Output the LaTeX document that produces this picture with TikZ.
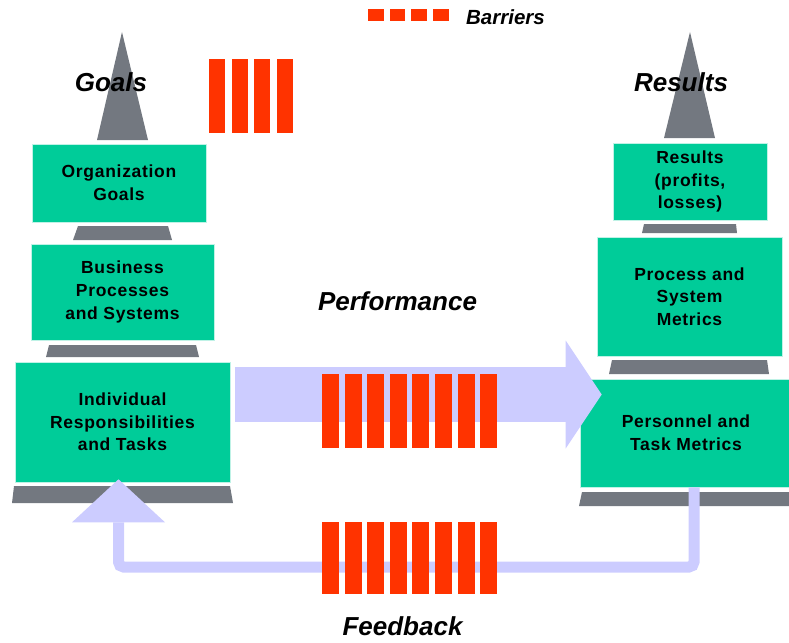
\documentclass[tikz,border=0pt]{standalone}
\usepackage{fontspec}
\setmainfont{Liberation Sans}
\newfontfamily\tierfont[LetterSpace=4]{Liberation Sans}
\usetikzlibrary{arrows.meta,calc}
\definecolor{tier}{HTML}{00CC99}
\definecolor{plinth}{RGB}{115,120,128}
\definecolor{barrier}{HTML}{FF3300}
\definecolor{flow}{HTML}{CCCCFF}

\begin{document}
\begin{tikzpicture}[x=1pt,y=-1pt,
  tierbox/.style={fill=tier, draw=white!75!tier, line width=0.6pt, align=center,
    inner sep=0pt, font=\tierfont\bfseries\fontsize{17.5}{22.7}\selectfont},
  plinthshape/.style={fill=plinth},
  bar/.style={fill=barrier},
  title/.style={font=\bfseries\itshape\fontsize{26}{30}\selectfont, inner sep=0pt, anchor=base},
  flow/.style={draw=flow}]
\useasboundingbox (0,0) rectangle (789,642);

% spires
\fill[plinthshape] (122,32) -- (148,140) -- (97,140) -- cycle;
\fill[plinthshape] (690,32) -- (715,138) -- (664,138) -- cycle;

% left stack: goals side
\node[tierbox, minimum width=174pt, minimum height=78pt] (og) at (119,183) {Organization\\Goals};
\node[tierbox, minimum width=183pt, minimum height=96pt] (bp) at (122.5,292) {Business\\Processes\\and Systems};
\node[tierbox, minimum width=215pt, minimum height=120pt] (ir) at (122.5,422) {Individual\\Responsibilities\\and Tasks};

% right stack: results side
\node[tierbox, minimum width=154pt, minimum height=77pt] (rp) at (690,181.5) {Results\\(profits,\\losses)};
\node[tierbox, minimum width=185pt, minimum height=119pt] (ps) at (689.5,296.5) {Process and\\System\\Metrics};
\node[tierbox, minimum width=212pt, minimum height=108pt] (pt) at (686,433) {Personnel and\\Task Metrics};

% plinths under the tiers
\fill[plinthshape] (78,226) -- (168,226) -- (172,240) -- (73,240) -- cycle;
\fill[plinthshape] (49,345) -- (196,345) -- (199,357) -- (46,357) -- cycle;
\fill[plinthshape] (14,486) -- (230,486) -- (233,503) -- (12,503) -- cycle;
\fill[plinthshape] (644,224) -- (736,224) -- (737,233) -- (642,233) -- cycle;
\fill[plinthshape] (612,360) -- (767,360) -- (769,374) -- (609,374) -- cycle;
\fill[plinthshape] (582,492) -- (792,492) -- (792,506) -- (579,506) -- cycle;

% titles
\node[title] (goals) at (111,92) {Goals};
\node[title] (results) at (681,92) {Results};
\node[title] (perf) at (397.5,310) {Performance};
\node[title] (fb) at (402.5,635) {Feedback};

% performance flow
\draw[flow, line width=55pt, -{Triangle[length=36pt,width=108pt,line width=0pt]}]
  ([shift={(5,-27.5)}]ir.east) -- ([shift={(22,-38.5)}]pt.west);

% feedback flow
\draw[flow, line width=11pt, rounded corners=5pt, -{Triangle[length=43pt,width=93pt,line width=0pt]}]
  ([xshift=8pt]pt.south) |- (118.5,567) -- ([shift={(-4,-3)}]ir.south);

% barriers
\foreach \i in {0,...,3} \fill[bar] ({209+22.7*\i},59) rectangle ++(16,74);
\foreach \i in {0,...,7} \fill[bar] ({322+22.6*\i},374) rectangle ++(17,74);
\foreach \i in {0,...,7} \fill[bar] ({322+22.6*\i},522) rectangle ++(17,72);

% legend
\foreach \i in {0,...,3} \fill[bar] ({368+21.7*\i},9) rectangle ++(15.5,12);
\node[font=\bfseries\itshape\fontsize{20.5}{24}\selectfont, inner sep=0pt, anchor=base] (leg) at (505.5,25) {Barriers};
\end{tikzpicture}
\end{document}
